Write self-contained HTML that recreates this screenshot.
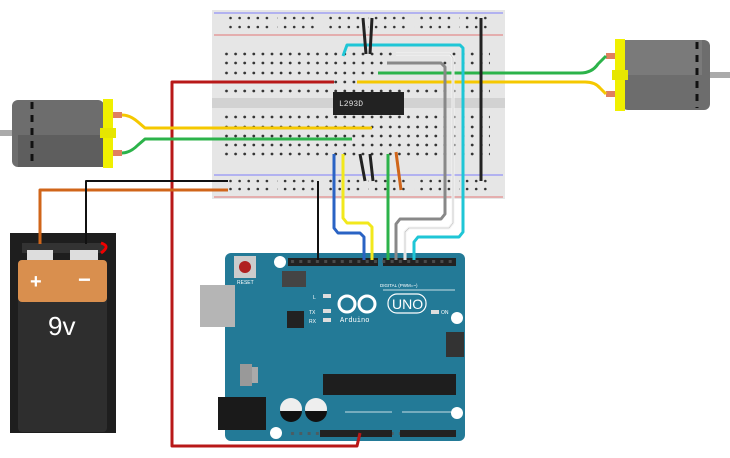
<!DOCTYPE html>
<html><head><meta charset="utf-8"><style>body{margin:0;background:#fff}svg{display:block}</style></head><body>
<svg width="730" height="458" viewBox="0 0 730 458" xmlns="http://www.w3.org/2000/svg" font-family="Liberation Sans, sans-serif">
<defs>
<pattern id="dots" x="222" y="0" width="9.1" height="458" patternUnits="userSpaceOnUse">
<circle cx="4.5" cy="54" r="1.4" fill="#333"/><circle cx="4.5" cy="63" r="1.4" fill="#333"/><circle cx="4.5" cy="73" r="1.4" fill="#333"/><circle cx="4.5" cy="82" r="1.4" fill="#333"/><circle cx="4.5" cy="91" r="1.4" fill="#333"/>
<circle cx="4.5" cy="117" r="1.4" fill="#333"/><circle cx="4.5" cy="127" r="1.4" fill="#333"/><circle cx="4.5" cy="136" r="1.4" fill="#333"/><circle cx="4.5" cy="145" r="1.4" fill="#333"/><circle cx="4.5" cy="154" r="1.4" fill="#333"/>
</pattern>
<pattern id="rail" x="226" y="0" width="9.1" height="458" patternUnits="userSpaceOnUse">
<circle cx="4.5" cy="18" r="1.3" fill="#333"/><circle cx="4.5" cy="27" r="1.3" fill="#333"/><circle cx="4.5" cy="181" r="1.3" fill="#333"/><circle cx="4.5" cy="189" r="1.3" fill="#333"/>
</pattern>
<pattern id="hdr" x="288" y="0" width="8.3" height="458" patternUnits="userSpaceOnUse">
<rect x="3" y="260" width="3" height="3" fill="#555"/><rect x="3" y="432" width="3" height="3" fill="#555"/>
</pattern>
</defs>
<rect x="212" y="10" width="293" height="189" fill="#e6e6e6"/>
<rect x="212" y="98" width="293" height="10" fill="#d2d2d2"/>
<line x1="214" y1="13" x2="503" y2="13" stroke="#5a5aff" stroke-width="0.8"/>
<line x1="214" y1="35" x2="503" y2="35" stroke="#e05050" stroke-width="0.8"/>
<line x1="214" y1="175" x2="503" y2="175" stroke="#5a5aff" stroke-width="0.8"/>
<line x1="214" y1="197" x2="503" y2="197" stroke="#e05050" stroke-width="0.8"/>
<rect x="224" y="48" width="266" height="110" fill="url(#dots)"/>
<rect x="226" y="14" width="262" height="18" fill="url(#rail)"/>
<rect x="226" y="177" width="262" height="16" fill="url(#rail)"/>
<g fill="#e6e6e6"><rect x="271" y="14" width="6" height="18"/><rect x="317" y="14" width="6" height="18"/><rect x="362" y="14" width="6" height="18"/><rect x="408" y="14" width="6" height="18"/><rect x="453" y="14" width="6" height="18"/>
<rect x="271" y="177" width="6" height="16"/><rect x="317" y="177" width="6" height="16"/><rect x="362" y="177" width="6" height="16"/><rect x="408" y="177" width="6" height="16"/><rect x="453" y="177" width="6" height="16"/></g>
<rect x="333" y="92" width="71" height="23" fill="#222"/>
<text x="339" y="106" font-size="8" fill="#ddd" font-family="Liberation Mono, monospace">L293D</text>
<g>
<rect x="0" y="130" width="14" height="6" fill="#aaa"/>
<rect x="12" y="100" width="92" height="67" rx="6" fill="#6d6d6d"/>
<rect x="18" y="135" width="86" height="32" fill="#5e5e5e"/>
<line x1="32" y1="102" x2="32" y2="166" stroke="#111" stroke-width="3" stroke-dasharray="7 6"/>
<rect x="103" y="99" width="10" height="69" fill="#f0f000"/>
<rect x="100" y="128" width="16" height="10" fill="#e6e600"/>
<rect x="113" y="112" width="9" height="6" fill="#e08060"/><rect x="113" y="150" width="9" height="6" fill="#e08060"/>
</g>
<g>
<rect x="706" y="72" width="24" height="6" fill="#aaa"/>
<rect x="622" y="40" width="88" height="70" rx="6" fill="#6d6d6d"/>
<rect x="622" y="40" width="80" height="35" fill="#7a7a7a"/>
<line x1="697" y1="42" x2="697" y2="108" stroke="#111" stroke-width="3" stroke-dasharray="7 6"/>
<rect x="615" y="39" width="10" height="72" fill="#f0f000"/>
<rect x="612" y="70" width="16" height="10" fill="#e6e600"/>
<rect x="606" y="53" width="9" height="6" fill="#e08060"/><rect x="606" y="91" width="9" height="6" fill="#e08060"/>
</g>
<rect x="10" y="233" width="106" height="200" fill="#1e1e1e"/>
<rect x="22" y="243" width="82" height="10" fill="#333"/>
<rect x="27" y="250" width="26" height="12" fill="#ddd"/><rect x="70" y="250" width="28" height="12" fill="#ddd"/>
<rect x="18" y="260" width="89" height="172" rx="4" fill="#2e2e2e"/>
<rect x="18" y="260" width="89" height="42" rx="4" fill="#d98f4e"/>
<text x="30" y="288" font-size="20" fill="#fff" font-weight="bold">+</text>
<text x="78" y="287" font-size="22" fill="#fff" font-weight="bold">−</text>
<text x="48" y="335" font-size="26" fill="#fff">9v</text>
<path d="M101 243 q10 3 0 10" stroke="#e00" stroke-width="3" fill="none"/>
<rect x="200" y="285" width="46" height="42" fill="#aaa"/>
<rect x="225" y="253" width="240" height="188" rx="6" fill="#237a97"/>
<rect x="200" y="285" width="35" height="42" fill="#b5b5b5"/>
<rect x="218" y="397" width="48" height="33" fill="#1a1a1a"/>
<rect x="234" y="256" width="22" height="22" fill="#ccc"/><circle cx="245" cy="267" r="6" fill="#b02020"/>
<text x="237" y="284" font-size="5" fill="#fff">RESET</text>
<circle cx="280" cy="262" r="6" fill="#fff"/><circle cx="457" cy="318" r="6" fill="#fff"/><circle cx="457" cy="413" r="6" fill="#fff"/><circle cx="276" cy="433" r="6" fill="#fff"/>
<rect x="282" y="271" width="24" height="16" fill="#444"/>
<rect x="288" y="258" width="90" height="8" fill="#222"/><rect x="383" y="258" width="73" height="8" fill="#222"/>
<rect x="288" y="256" width="168" height="182" fill="url(#hdr)" opacity="0.8"/>
<rect x="225" y="267" width="240" height="160" fill="none"/>
<text x="380" y="287" font-size="4.5" fill="#fff">DIGITAL (PWM=~)</text>
<line x1="383" y1="290" x2="455" y2="290" stroke="#fff" stroke-width="0.8"/>
<rect x="287" y="311" width="17" height="17" fill="#222"/>
<rect x="323" y="294" width="8" height="4" fill="#ddd"/><rect x="323" y="309" width="8" height="4" fill="#ddd"/><rect x="323" y="318" width="8" height="4" fill="#ddd"/>
<text x="313" y="299" font-size="5" fill="#fff">L</text><text x="309" y="314" font-size="5" fill="#fff">TX</text><text x="309" y="323" font-size="5" fill="#fff">RX</text>
<circle cx="347" cy="304" r="8" fill="none" stroke="#fff" stroke-width="3"/><circle cx="367" cy="304" r="8" fill="none" stroke="#fff" stroke-width="3"/>
<rect x="388" y="294" width="38" height="19" rx="9" fill="none" stroke="#fff" stroke-width="1.2"/>
<text x="392" y="309" font-size="14" fill="#fff">UNO</text>
<text x="340" y="322" font-size="7" fill="#fff" font-family="Liberation Mono, monospace">Arduino</text>
<rect x="431" y="310" width="8" height="4" fill="#ddd"/><text x="441" y="314" font-size="5" fill="#fff">ON</text>
<rect x="446" y="332" width="18" height="25" fill="#333"/>
<rect x="240" y="364" width="12" height="22" fill="#999"/><rect x="252" y="367" width="6" height="16" fill="#aaa"/>
<rect x="323" y="374" width="133" height="21" fill="#1e1e1e"/>
<circle cx="291" cy="409" r="11" fill="#eee"/><path d="M280 411 a11 11 0 0 0 22 0z" fill="#111"/>
<circle cx="316" cy="409" r="11" fill="#eee"/><path d="M305 411 a11 11 0 0 0 22 0z" fill="#111"/>
<rect x="320" y="430" width="72" height="7" fill="#222"/><rect x="400" y="430" width="56" height="7" fill="#222"/>
<line x1="345" y1="412" x2="392" y2="412" stroke="#fff" stroke-width="0.8"/><line x1="402" y1="412" x2="455" y2="412" stroke="#fff" stroke-width="0.8"/>
<g fill="none" stroke-width="3" stroke-linejoin="round">
<path d="M334 82 H172 V446 H357 L360 433" stroke="#b81818"/>
<path d="M357 82 H585 Q595 82 600 88 L606 94" stroke="#f5c800"/>
<path d="M378 73 H580 Q592 73 598 64 L606 56" stroke="#2cb34a"/>
<path d="M122 115 Q130 115 138 122 L145 128 H372" stroke="#f5c800"/>
<path d="M122 153 Q130 153 138 145 L145 139 H352" stroke="#2cb34a"/>
<path d="M343 56 L347 45 H460 L463 48 V232 L459 237 H418 L414 242 V260" stroke="#1fc6d6"/>
<path d="M396 54 H450 L453 58 V223 L449 228 H409 L405 232 V260" stroke="#f4f4f4"/>
<path d="M396 54 H450 L453 58 V223 L449 228 H409 L405 232 V260" stroke="#bbb" stroke-width="0.6"/>
<path d="M387 63 H441 L445 67 V214 L441 219 H400 L396 224 V260" stroke="#888"/>
<path d="M334 154 V228 L338 233 H360 L364 237 V260" stroke="#2a63c4"/>
<path d="M343 154 V218 L347 223 H368 L372 227 V260" stroke="#f2e81c"/>
<path d="M388 154 V260" stroke="#2cb34a"/>
<path d="M396 152 L401 190" stroke="#d0651a"/>
<path d="M318 181 V260" stroke="#111" stroke-width="2"/>
<path d="M363 18 L366 54 M372 18 L370 54 M360 154 L365 181 M370 154 L373 181" stroke="#222"/>
<path d="M481 18 V181" stroke="#222"/>
<path d="M40 244 V190 H228" stroke="#d0651a"/>
<path d="M86 244 V181 H228" stroke="#111" stroke-width="2"/>
</g>
</svg>
</body></html>
